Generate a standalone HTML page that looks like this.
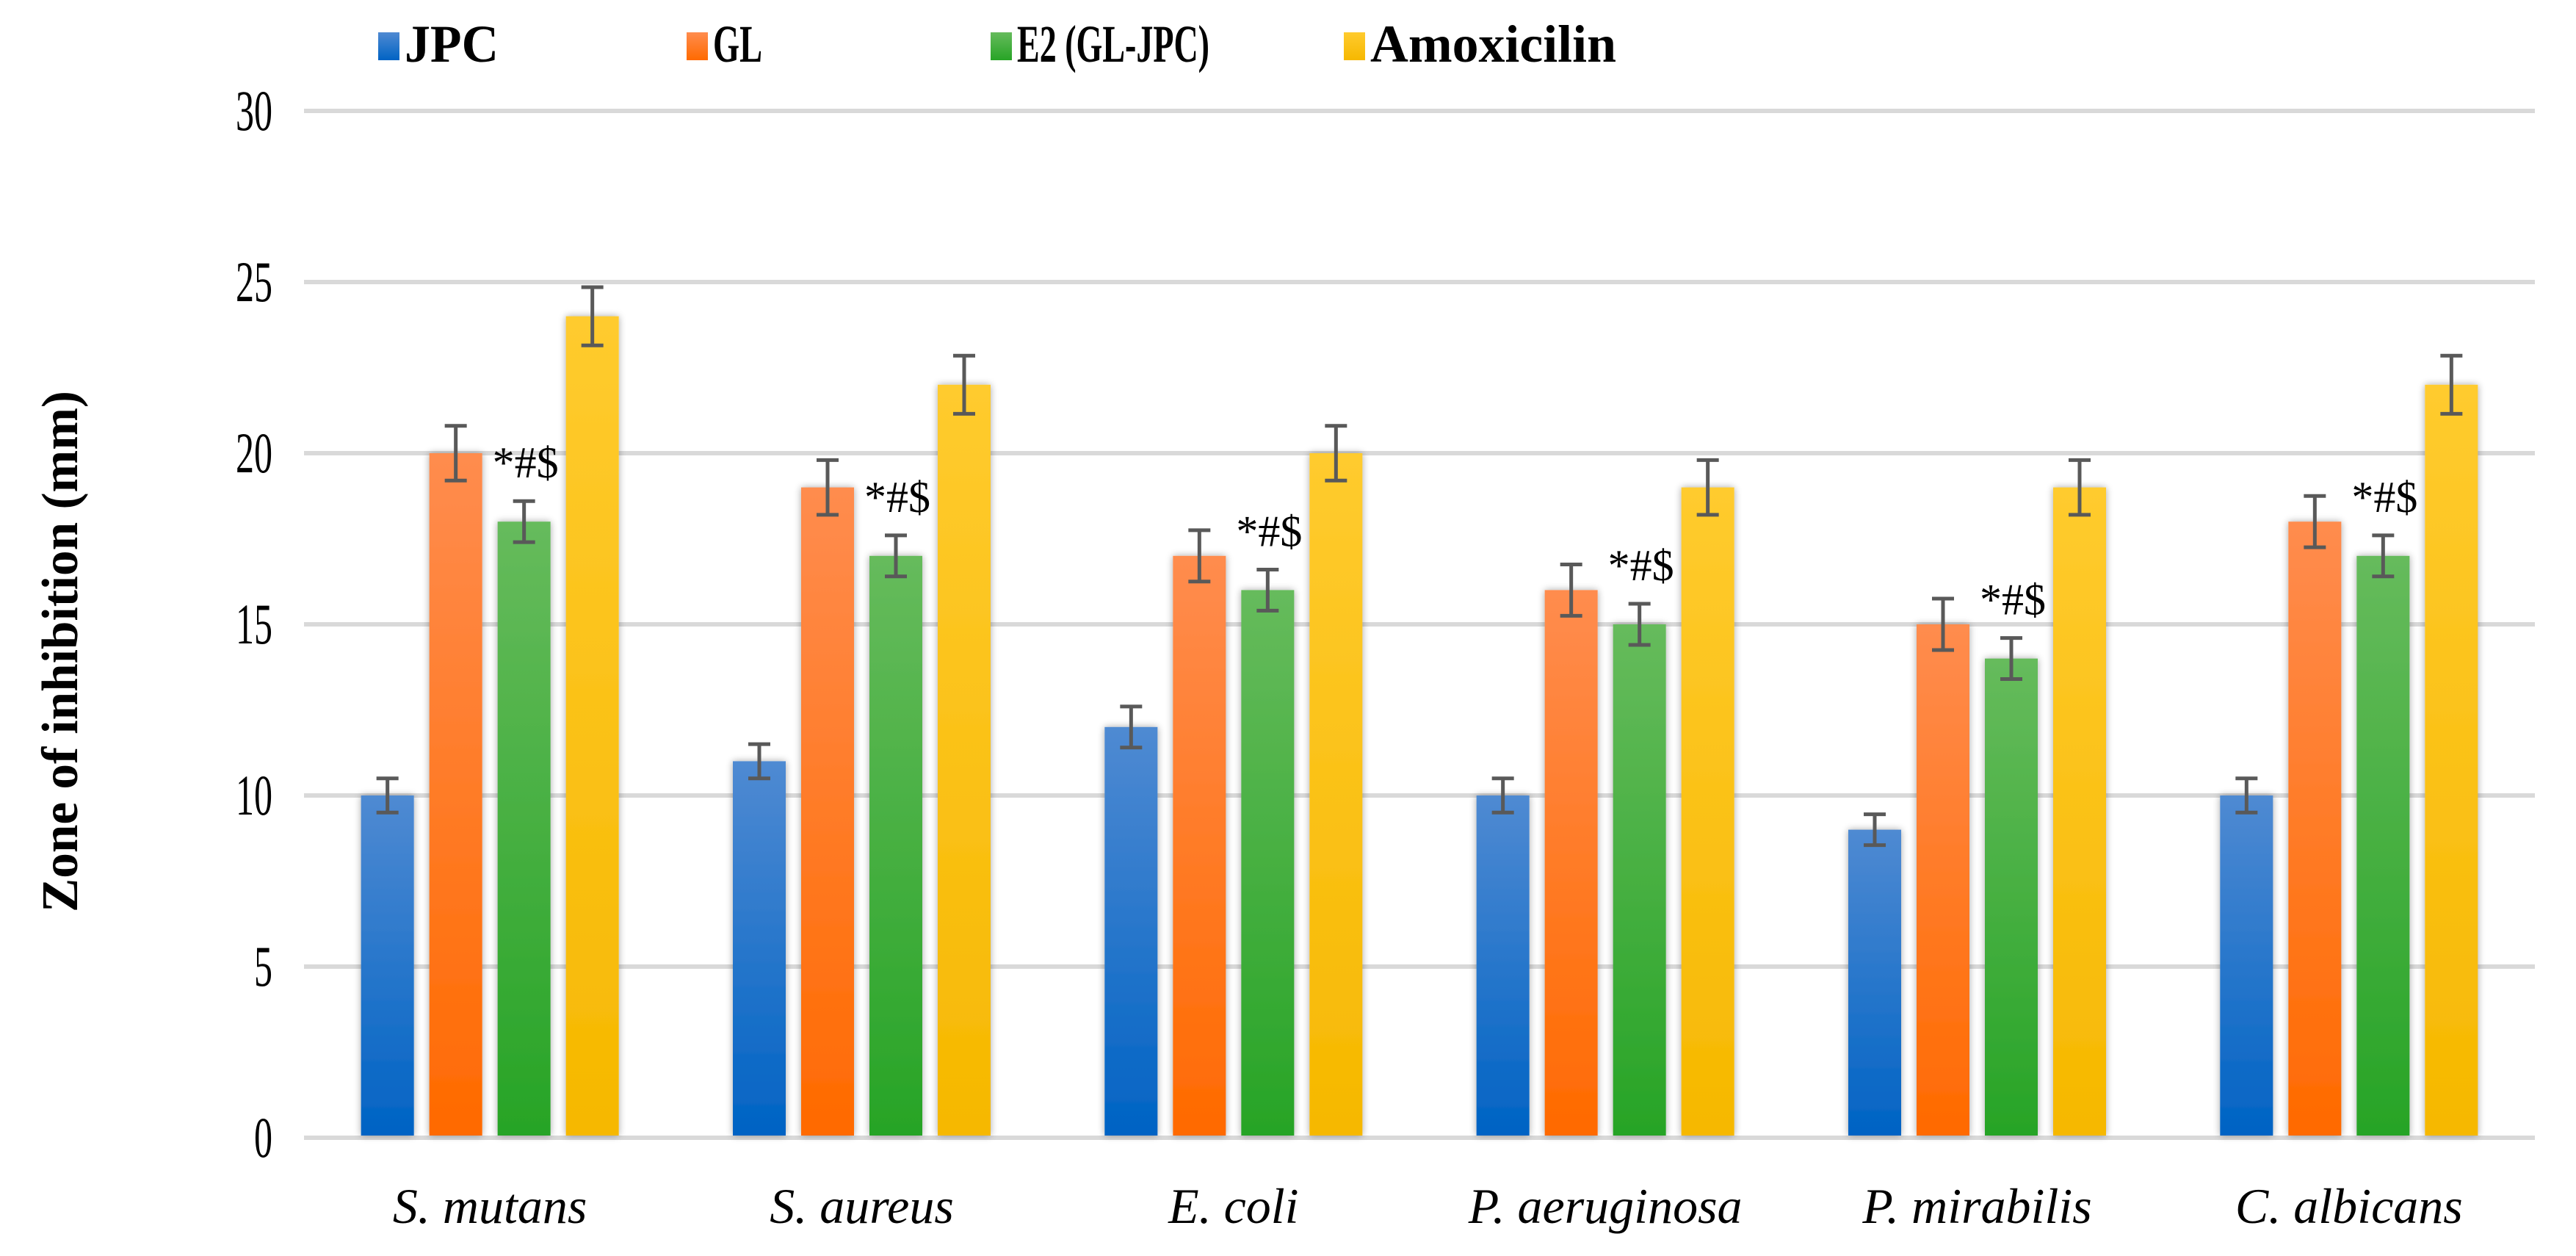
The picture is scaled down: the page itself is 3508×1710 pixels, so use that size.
<!DOCTYPE html>
<html><head><meta charset="utf-8"><style>
html,body{margin:0;padding:0;background:#fff;}
svg{display:block;}
text{font-family:"Liberation Serif",serif;fill:#000;}
</style></head><body>
<svg id="chart" width="3508" height="1710" viewBox="0 0 3508 1710" xmlns="http://www.w3.org/2000/svg">
<defs>
<linearGradient id="g0" x1="0" y1="0" x2="0" y2="1"><stop offset="0" stop-color="#4f8ad2"/><stop offset="1" stop-color="#0063c4"/></linearGradient>
<linearGradient id="g1" x1="0" y1="0" x2="0" y2="1"><stop offset="0" stop-color="#ff8c4e"/><stop offset="1" stop-color="#ff6a00"/></linearGradient>
<linearGradient id="g2" x1="0" y1="0" x2="0" y2="1"><stop offset="0" stop-color="#66bb5c"/><stop offset="1" stop-color="#27a426"/></linearGradient>
<linearGradient id="g3" x1="0" y1="0" x2="0" y2="1"><stop offset="0" stop-color="#ffcb2e"/><stop offset="1" stop-color="#f6b800"/></linearGradient>
<filter id="sh" x="-30%" y="-5%" width="160%" height="110%"><feGaussianBlur in="SourceAlpha" stdDeviation="5"/><feOffset dx="0" dy="0"/><feComponentTransfer><feFuncA type="linear" slope="0.35"/></feComponentTransfer><feMerge><feMergeNode/><feMergeNode in="SourceGraphic"/></feMerge></filter>
</defs>
<g id="grid"></g><g id="bars"></g><g id="labels"></g><g id="legend"></g>
<text x="0" y="0" transform="translate(105,887) rotate(-90)" text-anchor="middle" font-size="70" font-weight="bold" textLength="710" lengthAdjust="spacingAndGlyphs">Zone of inhibition (mm)</text>
</svg>
<script>
const categories = ["S. mutans","S. aureus","E. coli","P. aeruginosa","P. mirabilis","C. albicans"];
const seriesNames = ["JPC","GL","E2 (GL-JPC)","Amoxicilin"];
const jpcValues = [10,11,12,10,9,10];
const glValues = [20,19,17,16,15,18];
const e2Values = [18,17,16,15,14,17];
const amoxValues = [24,22,20,19,19,22];
const jpcErr = [0.5,0.5,0.6,0.5,0.45,0.5];
const glErr = [0.8,0.8,0.75,0.75,0.75,0.75];
const e2Err = [0.6,0.6,0.6,0.6,0.6,0.6];
const amoxErr = [0.85,0.85,0.8,0.8,0.8,0.85];
const annotation = "*#$";
const yTicks = [0,5,10,15,20,25,30];

const NS="http://www.w3.org/2000/svg";
const X0=414, X1=3452, Y0=1549, YTOP=151, YMAX=30;
const y = v => Y0 - (v/YMAX)*(Y0-YTOP);
const bandW = (X1-X0)/categories.length;
const xc = i => X0 + bandW*(i+0.5);
const BW=72, GAP=21;
const xb = (i,s) => xc(i) - (4*BW+3*GAP)/2 + s*(BW+GAP);
function mk(tag, attrs, parent){const e=document.createElementNS(NS,tag);for(const k in attrs)e.setAttribute(k,attrs[k]);parent.appendChild(e);return e;}
const grid=document.getElementById('grid'), bars=document.getElementById('bars'), labels=document.getElementById('labels'), legend=document.getElementById('legend');

yTicks.forEach(t=>{
  const l=mk('line',{x1:X0,x2:X1,y1:y(t),y2:y(t),stroke:'#d9d9d9','stroke-width':6},grid);
  
  
  const s=String(t);
  const tx=mk('text',{x:371,y:y(t)+26,'text-anchor':'end','font-size':78,textLength:s.length*25,lengthAdjust:'spacingAndGlyphs'},labels);
  tx.textContent=s;
  
  
});

const allVals=[jpcValues,glValues,e2Values,amoxValues];
const allErr=[jpcErr,glErr,e2Err,amoxErr];
const slug=["jpc","gl","e2","amoxicilin"];
categories.forEach((c,i)=>{
  allVals.forEach((vals,s)=>{
    const v=vals[i], x=xb(i,s);
    const r=mk('rect',{x:x,y:y(v),width:BW,height:Y0-y(v)-3,fill:'url(#g'+s+')',filter:'url(#sh)'},bars);
    
    
    const e=allErr[s][i], cx=x+BW/2;
    const eb=mk('path',{d:`M${cx},${y(v+e)}V${y(v-e)}M${cx-15},${y(v+e)}H${cx+15}M${cx-15},${y(v-e)}H${cx+15}`,stroke:'#595959','stroke-width':5,fill:'none'},bars);
    
    
    if(s===2){
      const a=mk('text',{x:x-7,y:y(v+e)-32,'font-size':60},labels);
      a.textContent=annotation;
      
      
    }
  });
  const cl=mk('text',{x:xc(i),y:1665,'text-anchor':'middle','font-size':68,'font-style':'italic'},labels);
  cl.textContent=c;
  
  
});

const legX=[515,935,1349,1830];
const legW=[128,67,262,335];
seriesNames.forEach((n,s)=>{
  const g=mk('g',{},legend);
  
  
  mk('rect',{x:legX[s],y:44,width:29,height:38,fill:'url(#g'+s+')'},g);
  const t=mk('text',{x:legX[s]+36,y:84,'font-size':72,'font-weight':'bold',textLength:legW[s],lengthAdjust:'spacingAndGlyphs'},g);
  t.textContent=n;
});
</script>
</body></html>
